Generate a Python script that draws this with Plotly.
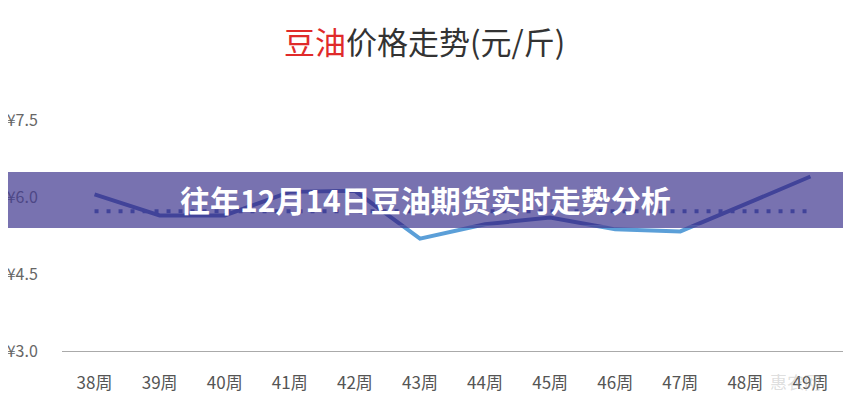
import plotly.graph_objects as go

# weekly soybean oil price (yuan / jin)
weeks = ["38周", "39周", "40周", "41周", "42周", "43周",
         "44周", "45周", "46周", "47周", "48周", "49周"]
prices = [6.05, 5.64, 5.64, 6.10, 6.12, 5.19, 5.47, 5.60, 5.37, 5.33, 5.86, 6.40]
avg_price = 5.72

y_ticks = [3.0, 4.5, 6.0, 7.5]
y_labels = ["¥3.0", "¥4.5", "¥6.0", "¥7.5"]

y_min, y_max = 3.0, 7.5
light_below = 5.45   # line turns light blue under this level

FONT = "Noto Sans CJK SC, Noto Sans, sans-serif"
DARK = "#3a58ad"
LIGHT = "#5b9fd8"

# the page shows the figure shifted by ~8px, so margins are pulled back
# by that much; positions below are page pixels (plot area 62..843, 120..351)
OFF = 8

def px_x(p):
    return (p - 62) / 781

def px_y(p):
    return (351 - p) / 231

fig = go.Figure()

# average (dotted)
fig.add_trace(go.Scatter(
    x=[weeks[0], weeks[-1]], y=[avg_price, avg_price],
    mode="lines", line=dict(color=DARK, width=4, dash="4px,8px"),
    hoverinfo="skip", showlegend=False))

# price line
fig.add_trace(go.Scatter(
    x=weeks, y=prices, mode="lines",
    line=dict(color=DARK, width=4), showlegend=False))

# same line on a clipped lower subplot -> light blue below threshold
fig.add_trace(go.Scatter(
    x=weeks, y=prices, mode="lines", xaxis="x2", yaxis="y2",
    line=dict(color=LIGHT, width=4), showlegend=False, hoverinfo="skip"))

fig.update_layout(
    width=851, height=400,
    margin=dict(l=62 - OFF, r=851 - 843 + OFF, t=120 - OFF, b=400 - 351 + OFF),
    paper_bgcolor="white", plot_bgcolor="white",
    font=dict(family=FONT, color="#555555", size=16),
    xaxis=dict(type="category", categoryorder="array", categoryarray=weeks,
               range=[-0.5, len(weeks) - 0.5], showgrid=False,
               showline=True, linecolor="#aaaaaa", linewidth=1,
               ticks="outside", ticklen=17, tickcolor="rgba(0,0,0,0)",
               tickfont=dict(size=17, color="#555555"), zeroline=False,
               automargin=False),
    yaxis=dict(range=[y_min, y_max], tickvals=y_ticks, ticktext=y_labels,
               showgrid=False, zeroline=False, showline=False,
               ticks="outside", ticklen=20, tickcolor="rgba(0,0,0,0)",
               tickfont=dict(size=16, color="#666666"), automargin=False),
    xaxis2=dict(type="category", categoryorder="array", categoryarray=weeks,
                range=[-0.5, len(weeks) - 0.5], domain=[0, 1], anchor="y2",
                visible=False),
    yaxis2=dict(range=[y_min, light_below], anchor="x2",
                domain=[0, (light_below - y_min) / (y_max - y_min)],
                visible=False),
)

# purple banner across the chart
fig.add_shape(type="rect", xref="paper", yref="paper",
              x0=px_x(-OFF), x1=px_x(860), y0=px_y(228), y1=px_y(172),
              fillcolor="rgba(68,60,146,0.72)", line=dict(width=0),
              layer="above")

fig.add_annotation(
    xref="paper", yref="paper", x=px_x(425), y=px_y(199),
    text="<b>往年12月14日豆油期货实时走势分析</b>", showarrow=False,
    font=dict(family=FONT, size=30, color="white"),
    xanchor="center", yanchor="middle")

# chart title
fig.add_annotation(
    xref="paper", yref="paper", x=px_x(424), y=px_y(41),
    text="<span style='color:#e02a2a'>豆油</span>价格走势(元/斤)",
    showarrow=False, font=dict(family=FONT, size=31, color="#333333"),
    xanchor="center", yanchor="middle")

# faint watermark
fig.add_annotation(
    xref="paper", yref="paper", x=px_x(795), y=px_y(381),
    text="惠农网", showarrow=False,
    font=dict(family=FONT, size=17, color="rgba(170,170,170,0.4)"),
    xanchor="center", yanchor="middle")

fig.write_html("out.html")
